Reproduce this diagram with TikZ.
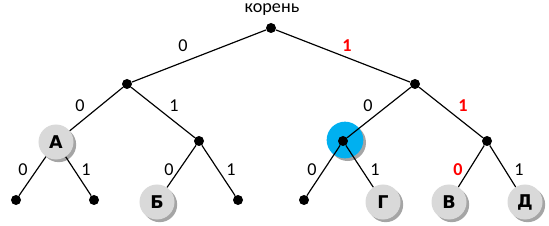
\documentclass[tikz,border=0pt]{standalone}
\usepackage{fontspec}
\setmainfont{Carlito}
\newfontfamily\letterfont{DejaVu Sans}
\usetikzlibrary{shadows}
\definecolor{LeafGray}{HTML}{D9D9D9}
\definecolor{ShadowGray}{HTML}{7F7F7F}
\definecolor{MarkBlue}{HTML}{00B0F0}
\definecolor{CodeRed}{HTML}{FF0000}

\begin{document}
\begin{tikzpicture}[x=0.03cm,y=-0.03cm,
  dot/.style={circle,fill=black,inner sep=0pt,minimum size=0.3cm},
  shade/.style={drop shadow={shadow xshift=0.08cm,shadow yshift=-0.08cm,fill=ShadowGray,opacity=0.7}},
  letter/.style={circle,shade,fill=LeafGray,inner sep=0pt,minimum size=1.05cm,font=\letterfont\bfseries\fontsize{15}{17}\selectfont},
  bit/.style={font=\fontsize{15.5}{18}\selectfont},
  redbit/.style={text=CodeRed,font=\bfseries\fontsize{15.5}{18}\selectfont},
  edge/.style={line width=1pt}]
  \useasboundingbox (0,0) rectangle (549,226);
  % marked vertex behind the edges
  \node[circle,shade,fill=MarkBlue,minimum size=1.1cm] (mark) at (345,140) {};
  % vertices
  \node[dot] (root) at (271,28) {};
  \node[bit] (rootlbl) at (272,10) {корень};
  \node[dot] (n0) at (127,84) {};
  \node[dot] (n1) at (415,84) {};
  \node[letter] (nA) at (56,142) {А};
  \node[dot] (n01) at (199,141) {};
  \node[dot] (n10) at (343,141) {};
  \node[dot] (n11) at (487,141) {};
  \node[dot] (n000) at (16,200) {};
  \node[dot] (n001) at (94,200) {};
  \node[letter] (nB) at (157,202) {Б};
  \node[dot] (n011) at (238,200) {};
  \node[dot] (n100) at (304,200) {};
  \node[letter] (nG) at (383,202) {Г};
  \node[letter] (nV) at (449,202) {В};
  \node[letter] (nD) at (525,202) {Д};
  % edges
  \draw[edge] (n0) -- (root) -- (n1);
  \draw[edge] (nA) -- (n0) -- (n01);
  \draw[edge] (n10) -- (n1) -- (n11);
  \draw[edge] (n000) -- (nA) -- (n001);
  \draw[edge] (nB) -- (n01) -- (n011);
  \draw[edge] (n100) -- (n10) -- (nG);
  \draw[edge] (nV) -- (n11) -- (nD);
  % bit labels
  \node[bit] (b0) at (183,46) {0};
  \node[redbit] (b1) at (347,46) {1};
  \node[bit] (b00) at (80,106) {0};
  \node[bit] (b01) at (174,106) {1};
  \node[bit] (b10) at (368,106) {0};
  \node[redbit] (b11) at (463,106) {1};
  \node[bit] (b000) at (23,170) {0};
  \node[bit] (b001) at (86,170) {1};
  \node[bit] (b010) at (169,170) {0};
  \node[bit] (b011) at (231,170) {1};
  \node[bit] (b100) at (312,170) {0};
  \node[bit] (b101) at (375,170) {1};
  \node[redbit] (b110) at (458,170) {0};
  \node[bit] (b111) at (519,170) {1};
\end{tikzpicture}
\end{document}
